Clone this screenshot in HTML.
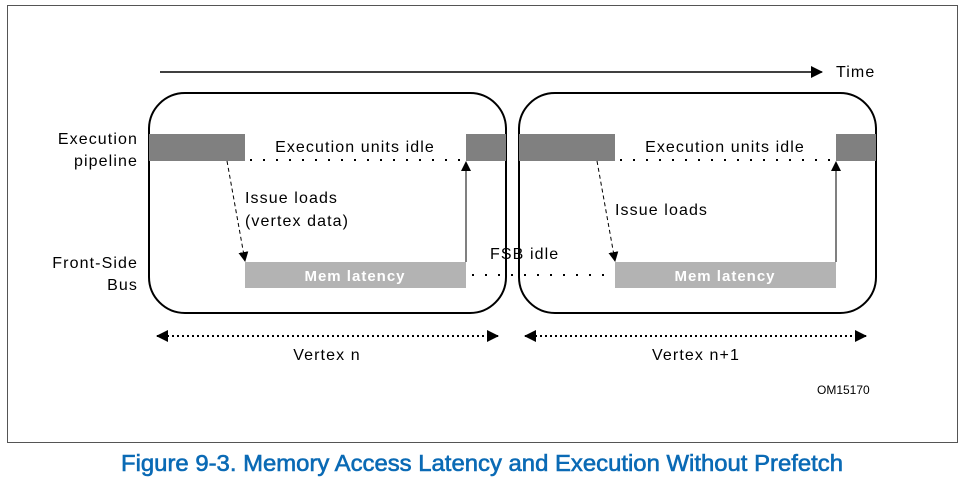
<!DOCTYPE html>
<html><head><style>
body{margin:0;width:964px;height:486px;background:#fff;overflow:hidden}
svg text{font-family:"Liberation Sans",sans-serif}
.t{font-size:16px;letter-spacing:1.1px}
</style></head><body>
<svg width="964" height="486" viewBox="0 0 964 486">
<defs>
<marker id="a" markerWidth="10" markerHeight="10" refX="9" refY="5" orient="auto" markerUnits="userSpaceOnUse"><path d="M0,0 L10,5 L0,10 Z" fill="#000"/></marker>
<marker id="s" markerWidth="12" markerHeight="12" refX="11" refY="6" orient="auto-start-reverse" markerUnits="userSpaceOnUse"><path d="M0,0 L12,6 L0,12 Z" fill="#000"/></marker>
</defs>
<rect x="7.5" y="5.5" width="950" height="437" fill="none" stroke="#555" stroke-width="1"/>
<line x1="160" y1="72" x2="822" y2="72" stroke="#000" stroke-width="1.5" marker-end="url(#s)"/>
<text x="836" y="77" class="t">Time</text>
<rect x="149" y="93" width="357" height="220" rx="36" fill="none" stroke="#000" stroke-width="2"/>
<rect x="519" y="93" width="357" height="220" rx="36" fill="none" stroke="#000" stroke-width="2"/>
<rect x="149" y="134" width="96" height="27" fill="#808080"/>
<rect x="466" y="134" width="40" height="27" fill="#808080"/>
<rect x="519" y="134" width="96" height="27" fill="#808080"/>
<rect x="836" y="134" width="40" height="27" fill="#808080"/>
<rect x="245" y="262" width="221" height="26" fill="#b3b3b3"/>
<rect x="615" y="262" width="221" height="26" fill="#b3b3b3"/>
<text x="355" y="281" font-size="15" font-weight="bold" fill="#fff" text-anchor="middle" letter-spacing="1">Mem latency</text>
<text x="725" y="281" font-size="15" font-weight="bold" fill="#fff" text-anchor="middle" letter-spacing="1">Mem latency</text>
<line x1="250" y1="160" x2="466" y2="160" stroke="#000" stroke-width="2" stroke-dasharray="2,11"/>
<line x1="620" y1="160" x2="836" y2="160" stroke="#000" stroke-width="2" stroke-dasharray="2,11"/>
<line x1="472" y1="275" x2="615" y2="275" stroke="#000" stroke-width="2" stroke-dasharray="2,11"/>
<text x="355" y="152" class="t" text-anchor="middle">Execution units idle</text>
<text x="725" y="152" class="t" text-anchor="middle">Execution units idle</text>
<line x1="227" y1="161" x2="245" y2="261" stroke="#000" stroke-width="1" stroke-dasharray="4,3" marker-end="url(#a)"/>
<line x1="597" y1="161" x2="615" y2="261" stroke="#000" stroke-width="1" stroke-dasharray="4,3" marker-end="url(#a)"/>
<line x1="466" y1="262" x2="466" y2="162" stroke="#000" stroke-width="1" marker-end="url(#a)"/>
<line x1="836" y1="262" x2="836" y2="162" stroke="#000" stroke-width="1" marker-end="url(#a)"/>
<text x="245" y="203" class="t">Issue loads</text>
<text x="245" y="226" class="t">(vertex data)</text>
<text x="615" y="215" class="t">Issue loads</text>
<text x="490" y="259" class="t">FSB idle</text>
<text x="138" y="144" class="t" text-anchor="end">Execution</text>
<text x="138" y="166" class="t" text-anchor="end">pipeline</text>
<text x="138" y="268" class="t" text-anchor="end">Front-Side</text>
<text x="138" y="290" class="t" text-anchor="end">Bus</text>
<line x1="157" y1="336" x2="498" y2="336" stroke="#000" stroke-width="2" stroke-dasharray="2,3" marker-start="url(#s)" marker-end="url(#s)"/>
<line x1="525" y1="336" x2="866" y2="336" stroke="#000" stroke-width="2" stroke-dasharray="2,3" marker-start="url(#s)" marker-end="url(#s)"/>
<text x="327" y="360" class="t" text-anchor="middle">Vertex n</text>
<text x="696" y="360" class="t" text-anchor="middle">Vertex n+1</text>
<text x="817" y="394" font-size="12">OM15170</text>
<text x="482" y="471" font-size="23" fill="#0a6ab5" text-anchor="middle" font-family="'Liberation Sans Narrow','Liberation Sans',sans-serif" stroke="#0a6ab5" stroke-width="0.6" textLength="722" lengthAdjust="spacingAndGlyphs">Figure 9-3.  Memory Access Latency and Execution Without Prefetch</text>
</svg>
</body></html>
